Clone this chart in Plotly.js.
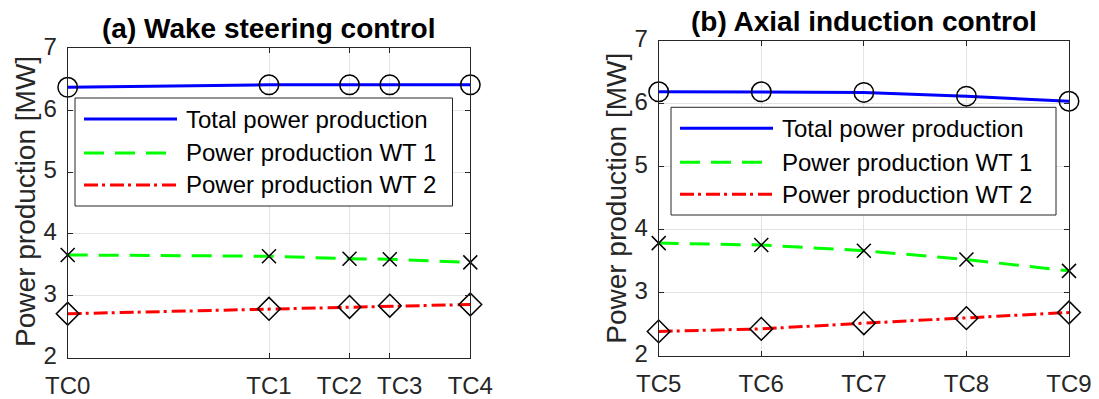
<!DOCTYPE html>
<html><head><meta charset="utf-8">
<script src="https://cdn.plot.ly/plotly-3.0.1.min.js"></script>
<style>html,body{margin:0;padding:0;background:#fff}</style>
</head><body>
<div id="chart" style="width:1099px;height:399px"></div>
<script>
// ---- data ----
const wsCases = ['TC0', 'TC1', 'TC2\u00a0\u00a0\u00a0', '\u00a0\u00a0\u00a0TC3', 'TC4'];
const wsX = [0, 5, 7, 8, 10];
const wsTotal = [6.37, 6.41, 6.41, 6.41, 6.41];
const wsWT1 = [3.66, 3.64, 3.60, 3.59, 3.54];
const wsWT2 = [2.71, 2.79, 2.82, 2.84, 2.86];

const aiCases = ['TC5', 'TC6', 'TC7', 'TC8', 'TC9'];
const aiX = [0, 1, 2, 3, 4];
const aiTotal = [6.19, 6.19, 6.18, 6.12, 6.04];
const aiWT1 = [3.79, 3.76, 3.67, 3.53, 3.35];
const aiWT2 = [2.39, 2.43, 2.52, 2.60, 2.69];

const seriesNames = ['Total power production', 'Power production WT 1', 'Power production WT 2'];
const panelTitles = ['(a) Wake steering control', '(b) Axial induction control'];
const yTitle = 'Power production [MW]';

// ---- helpers ----
const W = 1099, H = 399;
const fx = p => p / W;
const fy = p => 1 - p / H;
const FONT = 'Liberation Sans, Arial, sans-serif';
const DARK = '#262626';
const colors = ['#0000ff', '#00ff00', '#ff0000'];
const dashes = ['solid', '20px,11px', '14px,4px,3px,5px'];
const symbols = ['circle-open', 'x-thin-open', 'diamond-open'];
const sizes = [19.5, 14, 17.5];

const traces = [];
function addPanel(xs, ys, xa, ya) {
  ys.forEach((y, i) => {
    traces.push({x: xs, y: y, xaxis: xa, yaxis: ya, mode: 'lines', showlegend: false,
      line: {color: colors[i], width: 3, dash: dashes[i]}, hoverinfo: 'skip'});
  });
  ys.forEach((y, i) => {
    traces.push({x: xs, y: y, xaxis: xa, yaxis: ya, mode: 'markers', showlegend: false, cliponaxis: false,
      marker: {symbol: symbols[i], size: sizes[i], color: '#000', line: {color: '#000', width: 1.5}}, hoverinfo: 'skip'});
  });
}
addPanel(wsX, [wsTotal, wsWT1, wsWT2], 'x', 'y');
addPanel(aiX, [aiTotal, aiWT1, aiWT2], 'x2', 'y2');

function xAxis(domain, range, vals, text, anchor) {
  return {domain: domain, range: range, tickvals: vals, ticktext: text, anchor: anchor, tickangle: 0,
    showgrid: true, gridcolor: '#e3e3e3', gridwidth: 1, zeroline: false,
    showline: true, linecolor: DARK, linewidth: 1, mirror: 'ticks',
    ticks: 'inside', ticklen: 5, tickcolor: DARK, tickwidth: 1, ticklabelstandoff: 6,
    tickfont: {family: FONT, size: 24, color: DARK}, fixedrange: true};
}
function yAxis(domain, anchor) {
  return {domain: domain, range: [2, 7], dtick: 1, tick0: 2, anchor: anchor,
    showgrid: true, gridcolor: '#e3e3e3', gridwidth: 1, zeroline: false,
    showline: true, linecolor: DARK, linewidth: 1, mirror: 'ticks',
    ticks: 'inside', ticklen: 5, tickcolor: DARK, tickwidth: 1, ticklabelstandoff: 5, ticklabelshift: -2,
    tickfont: {family: FONT, size: 24, color: DARK}, fixedrange: true};
}

const shapes = [];
const annotations = [];

function legendBox(left, top, right, bottom) {
  shapes.push({type: 'rect', xref: 'paper', yref: 'paper', x0: fx(left), x1: fx(right), y0: fy(bottom), y1: fy(top),
    fillcolor: '#fff', line: {color: DARK, width: 1}, layer: 'above'});
  const offs = [21, 55, 87];
  seriesNames.forEach((name, i) => {
    const yy = top + offs[i];
    shapes.push({type: 'line', xref: 'paper', yref: 'paper', x0: fx(left + 9), x1: fx(left + 102), y0: fy(yy), y1: fy(yy),
      line: {color: colors[i], width: 3, dash: dashes[i]}, layer: 'above'});
    annotations.push({xref: 'paper', yref: 'paper', x: fx(left + 109), y: fy(yy), xanchor: 'left', yanchor: 'middle',
      text: name, showarrow: false, font: {family: FONT, size: 24, color: '#000'}});
  });
}
legendBox(75, 98, 452.5, 206);
legendBox(671, 107.3, 1056, 215);

annotations.push({xref: 'paper', yref: 'paper', x: fx(268.5), y: fy(29), xanchor: 'center', yanchor: 'middle',
  text: panelTitles[0], showarrow: false, font: {family: FONT, size: 28, color: '#000', weight: 'bold'}});
annotations.push({xref: 'paper', yref: 'paper', x: fx(864), y: fy(21.3), xanchor: 'center', yanchor: 'middle',
  text: panelTitles[1], showarrow: false, font: {family: FONT, size: 28, color: '#000', weight: 'bold'}});
annotations.push({xref: 'paper', yref: 'paper', x: fx(25.5), y: fy(201.4), xanchor: 'center', yanchor: 'middle', textangle: -90,
  text: yTitle, showarrow: false, font: {family: FONT, size: 28, color: DARK}});
annotations.push({xref: 'paper', yref: 'paper', x: fx(616.5), y: fy(198.3), xanchor: 'center', yanchor: 'middle', textangle: -90,
  text: yTitle, showarrow: false, font: {family: FONT, size: 28, color: DARK}});

const layout = {
  width: W, height: H, margin: {l: 0, r: 0, t: 0, b: 0},
  paper_bgcolor: '#fff', plot_bgcolor: '#fff', showlegend: false,
  xaxis: xAxis([fx(67.7), fx(470.3)], [0, 10], wsX, wsCases, 'y'),
  yaxis: yAxis([fy(357.7), fy(48.3)], 'x'),
  xaxis2: xAxis([fx(658.7), fx(1069)], [0, 4], aiX, aiCases, 'y2'),
  yaxis2: yAxis([fy(356), fy(40.7)], 'x2'),
  shapes: shapes, annotations: annotations
};
Plotly.newPlot('chart', traces, layout, {staticPlot: true, displayModeBar: false});
</script>
</body></html>
